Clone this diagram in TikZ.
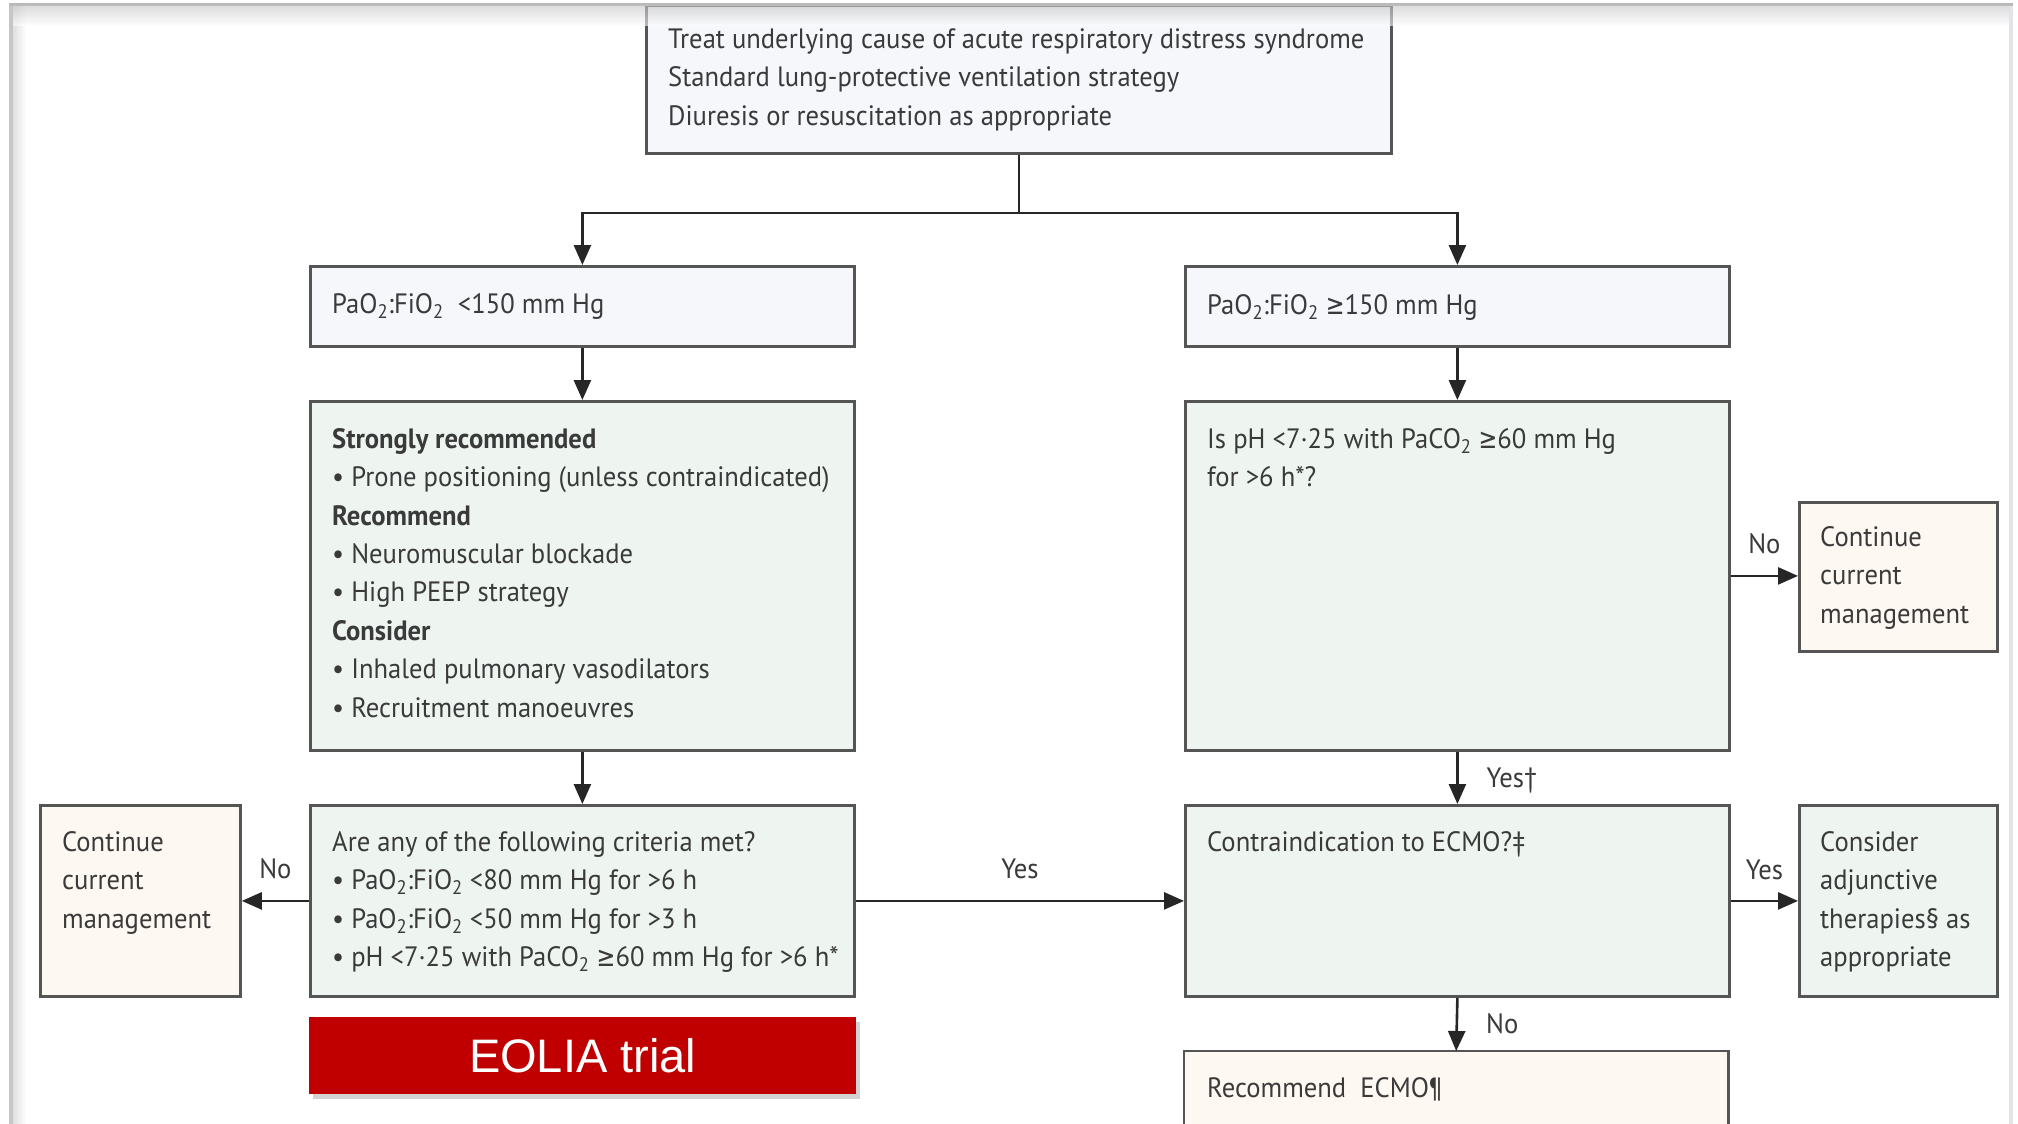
\documentclass[tikz,border=0pt]{standalone}
\usepackage{fontspec}
\setmainfont{PT Sans}[FakeStretch=0.95]
\newfontfamily\arialf{Liberation Sans}
\newfontfamily\symf{DejaVu Sans}[FakeStretch=0.8]
\newcommand\gee{{\symf ≥}}
\usetikzlibrary{arrows.meta,shadows}
\definecolor{boxline}{HTML}{555555}
\definecolor{txt}{HTML}{3A3A3A}
\definecolor{fillblue}{HTML}{F5F7FB}
\definecolor{fillgreen}{HTML}{EEF5F1}
\definecolor{fillbeige}{HTML}{FDF8F2}
\definecolor{eoliared}{HTML}{C00000}
\newcommand\fl{\rule{0pt}{22pt}}
\begin{document}
\begin{tikzpicture}[x=1pt,y=-1pt,
  box/.style={draw=boxline,line width=2.8pt,inner sep=0pt,anchor=north west},
  txtnode/.style={anchor=north west,inner sep=0pt,align=left,text=txt,font=\fontsize{28}{38.4}\selectfont},
  arr/.style={draw=black!85,line width=2.6pt,-{Triangle[length=20pt,width=17pt]}},
  lbl/.style={text=txt,font=\fontsize{28}{32}\selectfont,inner sep=0pt},
]
\useasboundingbox (0,0) rectangle (2018,1124);
\fill[white] (0,0) rectangle (2018,1124);
% frame
\fill[gray!45] (9,4) rectangle (13,1124);
\shade[left color=gray!25,right color=white] (13,6) rectangle (26,1124);
\fill[blue!10!gray!20] (2009,6) rectangle (2013,1124);

% boxes
\node[box,fill=fillblue,minimum width=745pt,minimum height=148pt] (top) at (645,4) {};
\node[box,fill=fillblue,minimum width=544pt,minimum height=80pt] (L1) at (309,265) {};
\node[box,fill=fillblue,minimum width=544pt,minimum height=80pt] (R1) at (1184,265) {};
\node[box,fill=fillgreen,minimum width=544pt,minimum height=349pt] (L2) at (309,400) {};
\node[box,fill=fillgreen,minimum width=544pt,minimum height=349pt] (R2) at (1184,400) {};
\node[box,fill=fillgreen,minimum width=544pt,minimum height=191pt] (L3) at (309,804) {};
\node[box,fill=fillgreen,minimum width=544pt,minimum height=191pt] (C) at (1184,804) {};
\node[box,fill=fillbeige,minimum width=200pt,minimum height=191pt] (LL) at (39,804) {};
\node[box,fill=fillbeige,minimum width=198pt,minimum height=149pt] (RR1) at (1798,501) {};
\node[box,fill=fillgreen,minimum width=198pt,minimum height=191pt] (RR2) at (1798,804) {};
\node[anchor=north west,inner sep=0pt,fill=fillbeige,minimum width=544pt,minimum height=80pt] (E) at (1184,1051) {};
\draw[draw=boxline,line width=2.8pt] (E.south west) -- (E.north west) -- (E.north east) -- (E.south east);

% top shadow band
\fill[gray!55] (9,3) rectangle (2013,6);
\shade[top color=gray!45,bottom color=white,opacity=0.6] (13,6) rectangle (2009,26);

% texts
\node[txtnode] (ttop) at (668,26) {\fl Treat underlying cause of acute respiratory distress syndrome\\Standard lung-protective ventilation strategy\\Diuresis or resuscitation as appropriate};
\node[txtnode] (tL1) at (332,291) {\fl PaO\textsubscript{2}:FiO\textsubscript{2}\ \ <150 mm Hg};
\node[txtnode] (tR1) at (1207,292) {\fl PaO\textsubscript{2}:FiO\textsubscript{2} \gee150 mm Hg};
\node[txtnode] (tL2) at (332,426) {\fl\textbf{Strongly recommended}\\• Prone positioning (unless contraindicated)\\\textbf{Recommend}\\• Neuromuscular blockade\\• High PEEP strategy\\\textbf{Consider}\\• Inhaled pulmonary vasodilators\\• Recruitment manoeuvres};
\node[txtnode] (tR2) at (1207,426) {\fl Is pH <7·25 with PaCO\textsubscript{2} \gee60 mm Hg\\for >6 h*?};
\node[txtnode] (tL3) at (332,829) {\fl Are any of the following criteria met?\\• PaO\textsubscript{2}:FiO\textsubscript{2} <80 mm Hg for >6 h\\• PaO\textsubscript{2}:FiO\textsubscript{2} <50 mm Hg for >3 h\\• pH <7·25 with PaCO\textsubscript{2} \gee60 mm Hg for >6 h*};
\node[txtnode] (tC) at (1207,829) {\fl Contraindication to ECMO?‡};
\node[txtnode] (tLL) at (62,829) {\fl Continue\\current\\management};
\node[txtnode] (tRR1) at (1820,524) {\fl Continue\\current\\management};
\node[txtnode] (tRR2) at (1820,829) {\fl Consider\\adjunctive\\therapies§ as\\appropriate};
\node[txtnode] (tE) at (1207,1075) {\fl Recommend\ \ ECMO¶};

% EOLIA
\node[anchor=north west,inner sep=0pt,fill=eoliared,minimum width=547pt,minimum height=77pt,
  drop shadow={shadow xshift=4pt,shadow yshift=-5pt,opacity=0.35},
  text=white,font=\arialf\fontsize{47}{50}\selectfont] (eolia) at (309,1017) {EOLIA trial};

% connectors
\coordinate (junc) at ([yshift=-58pt]top.south);
\draw[draw=black!85,line width=2.6pt] (top.south) -- (junc);
\draw[arr] (junc) -| (L1.north);
\draw[arr] (junc) -| (R1.north);
\draw[arr] (L1.south) -- (L2.north);
\draw[arr] (R1.south) -- (R2.north);
\draw[arr] (L2.south) -- (L3.north);
\draw[arr] (L3.west) -- node[lbl,anchor=base,yshift=22pt] (noL) {No} (LL.east);
\draw[arr] (L3.east) -- node[lbl,anchor=base,yshift=22pt] (yesM) {Yes} (C.west);
\draw[arr] (R2.east) -- node[lbl,anchor=base,yshift=22pt] (noR) {No} (RR1.west |- R2.east);
\draw[arr] (R2.south) -- node[lbl,anchor=base west,xshift=28pt,yshift=-9.5pt] (yesD) {Yes†} (C.north);
\draw[arr] (C.east) -- node[lbl,anchor=base,yshift=21pt] (yesR) {Yes} (RR2.west);
\draw[arr] (C.south) -- node[lbl,anchor=base west,xshift=28pt,yshift=-9pt] (noD) {No} (E.north);
\end{tikzpicture}
\end{document}
